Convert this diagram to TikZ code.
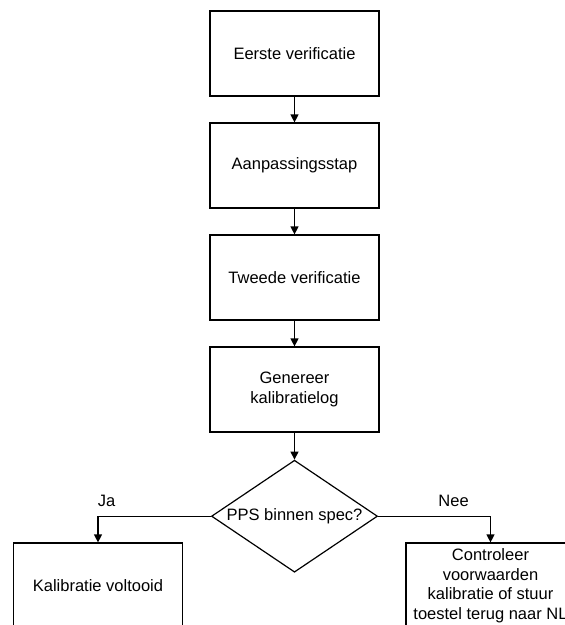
\documentclass[tikz,border=0pt]{standalone}
\usepackage{fontspec}
\setmainfont{Liberation Sans}
\usetikzlibrary{positioning,shapes.geometric,arrows.meta}

\begin{document}
\begin{tikzpicture}[x=1pt,y=-1pt,
		stap/.style={draw, line width=1.2pt, minimum width=169pt, minimum height=85pt,
			inner sep=3pt, align=center, font=\fontsize{16.5}{19.5}\selectfont},
		keuze/.style={draw, diamond, line width=1.2pt, minimum width=166pt,
			minimum height=112pt, inner sep=0pt},
		pijl/.style={-{Triangle[length=8pt,width=8pt]}, line width=1.2pt},
		tekst/.style={font=\fontsize{16.5}{19.5}\selectfont}]
	\useasboundingbox (0,0) rectangle (565,625);
	\clip (0,0) rectangle (565,625);

	% hoofdlijn
	\node[stap] (eerste) at (294.5,53.5) {Eerste verificatie};
	\node[stap, below=25.8pt of eerste] (aanpassing) {Aanpassingsstap};
	\node[stap, below=25.8pt of aanpassing] (tweede) {Tweede verificatie};
	\node[stap, below=25.8pt of tweede] (log) {Genereer\\kalibratielog};
	\node[keuze, below=27pt of log] (spec) {};
	\node[tekst] (spectekst) at (spec) {PPS binnen spec?};

	% uitkomsten
	\node[stap] (voltooid) at (98,585.5) {Kalibratie voltooid};
	\node[stap] (terug) at (490.5,585.5)
		{Controleer\\voorwaarden\\kalibratie of stuur\\toestel terug naar NL};

	\draw[pijl] (eerste) -- (aanpassing);
	\draw[pijl] (aanpassing) -- (tweede);
	\draw[pijl] (tweede) -- (log);
	\draw[pijl] (log) -- (spec);
	\draw[pijl] (spec.west) -| node[tekst, pos=0.4625, above=6pt] (ja) {Ja} (voltooid.north);
	\draw[pijl] (spec.east) -| node[tekst, pos=0.336, above=6pt] (nee) {Nee} (terug.north);
\end{tikzpicture}
\end{document}
